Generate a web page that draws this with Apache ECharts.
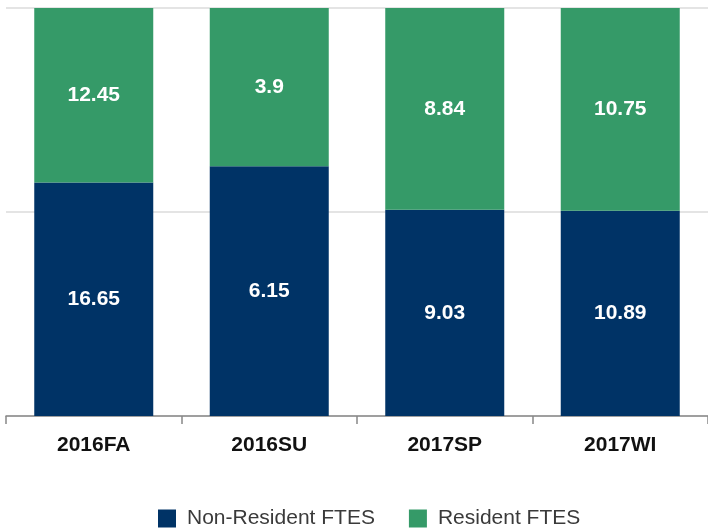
<!DOCTYPE html>
<html>
<head>
<meta charset="utf-8">
<style>
  html, body { margin: 0; padding: 0; background: #fff; }
  #chart { width: 708px; height: 531px; }
</style>
<script src="https://cdn.jsdelivr.net/npm/echarts@6/dist/echarts.min.js"></script>
</head>
<body>
<div id="chart"></div>
<script>
// Terms and FTES split by residency
const terms = ['2016FA', '2016SU', '2017SP', '2017WI'];
const nonResident = [16.65, 6.15, 9.03, 10.89];
const resident = [12.45, 3.9, 8.84, 10.75];

// Each bar is shown as a share of its term total (100% stacked)
const totals = terms.map((_, i) => nonResident[i] + resident[i]);
const share = (arr) => arr.map((v, i) => ({ value: v / totals[i] * 100, raw: v }));

const FONT = 'Liberation Sans, Arial, sans-serif';

const labelStyle = {
  show: true,
  position: 'inside',
  color: '#ffffff',
  fontFamily: FONT,
  fontWeight: 'bold',
  fontSize: 21,
  formatter: (p) => String(p.data.raw)
};

const chart = echarts.init(document.getElementById('chart'));
chart.setOption({
  animation: false,
  grid: { left: 6, right: -2, top: 8, bottom: 115, containLabel: false },
  legend: {
    bottom: -3,
    left: 153,
    itemWidth: 18,
    itemHeight: 18,
    itemGap: 34,
    icon: 'rect',
    textStyle: { color: '#3a3a3a', fontSize: 21, fontFamily: FONT, padding: [0, 0, 0, 6] },
    data: ['Non-Resident FTES', 'Resident FTES']
  },
  xAxis: {
    type: 'category',
    data: terms,
    axisLine: { show: true, lineStyle: { color: '#888', width: 1.5 } },
    axisTick: { show: true, length: 8, lineStyle: { color: '#888', width: 1.5 } },
    axisLabel: {
      color: '#111',
      fontWeight: 'bold',
      fontSize: 21,
      fontFamily: FONT,
      margin: 19
    }
  },
  yAxis: {
    type: 'value',
    min: 0,
    max: 100,
    interval: 50,
    axisLabel: { show: false },
    axisLine: { show: false },
    axisTick: { show: false },
    splitLine: { show: true, lineStyle: { color: '#e4e4e4', width: 2 } }
  },
  series: [
    {
      name: 'Non-Resident FTES',
      type: 'bar',
      stack: 'fte',
      barWidth: 119,
      itemStyle: { color: '#003366' },
      label: labelStyle,
      data: share(nonResident)
    },
    {
      name: 'Resident FTES',
      type: 'bar',
      stack: 'fte',
      barWidth: 119,
      itemStyle: { color: '#359a68' },
      label: labelStyle,
      data: share(resident)
    }
  ]
});
</script>
</body>
</html>
